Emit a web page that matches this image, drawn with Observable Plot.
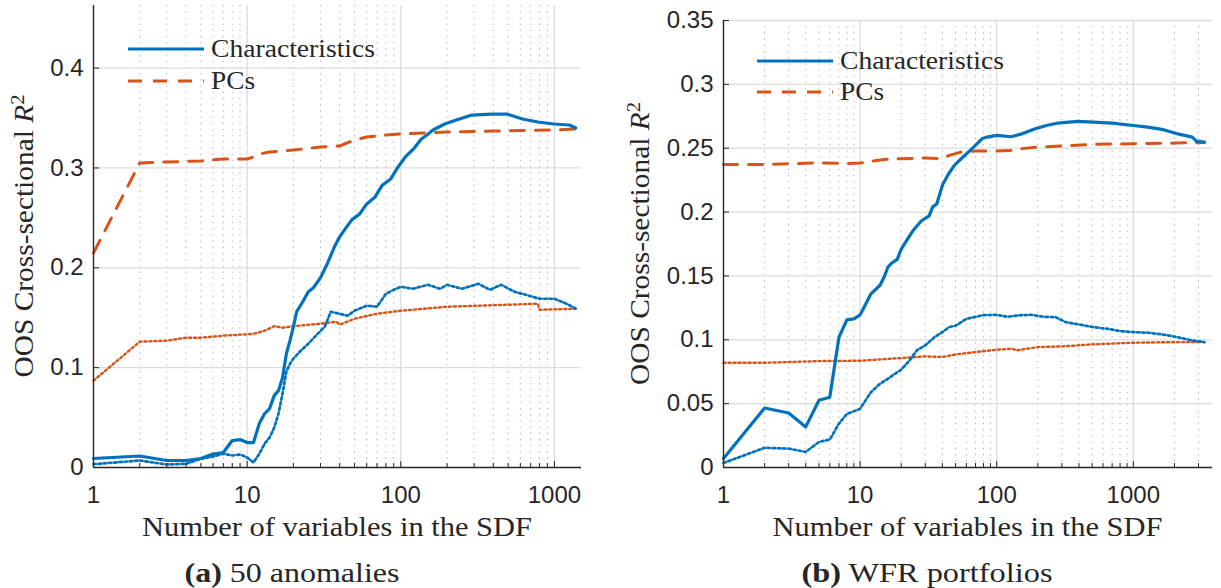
<!DOCTYPE html>
<html><head><meta charset="utf-8">
<script src="https://cdn.jsdelivr.net/npm/d3@7"></script>
<script src="https://cdn.jsdelivr.net/npm/@observablehq/plot@0.6"></script>
<style>
body{margin:0;background:#fff;}
#wrap{position:relative;width:1221px;height:588px;overflow:hidden;background:#fff;}
#wrap svg{position:absolute;top:0;}
#wrap svg text.serif, #wrap svg text.serif tspan{font-family:"Liberation Serif","Times New Roman","DejaVu Serif",serif !important;}
#wrap svg g[aria-label="x-axis tick label"] text, #wrap svg g[aria-label="y-axis tick label"] text{font-family:"Liberation Sans",Arial,Helvetica,"DejaVu Sans",sans-serif !important;}
</style></head><body><div id="wrap"></div>
<script>
// ---------- Panel (a): 50 anomalies ----------
const aCharSolidX = [1,2,3,4,5,6,7,8,9,10,11,12,13,14,15,16,17,18,19,20,21,23,25,27,30,33,37,40,43,48,54,60,68,76,86,96,107,121,136,148,162,193,230,290,390,490,620,780,990,1250,1375];
const aCharSolidY = [0.009,0.0115,0.007,0.007,0.009,0.0135,0.015,0.027,0.028,0.025,0.025,0.044,0.054,0.059,0.072,0.077,0.09,0.114,0.127,0.141,0.156,0.166,0.176,0.18,0.19,0.203,0.221,0.231,0.238,0.248,0.254,0.264,0.271,0.283,0.289,0.301,0.311,0.319,0.329,0.333,0.338,0.344,0.348,0.353,0.354,0.354,0.349,0.346,0.344,0.343,0.340];
const aPCsDashX = [1,2,3,5,7,10,11,12,14,20,30,40,50,60,80,100,200,400,1000,1375];
const aPCsDashY = [0.215,0.305,0.306,0.307,0.309,0.309,0.311,0.314,0.316,0.318,0.321,0.322,0.328,0.331,0.333,0.334,0.336,0.337,0.338,0.339];
const aCharDotX = [1,2,3,4,5,6,7,8,9,10,11,12,13,14,15,16,17,18,19,20,22,25,28,32,35,40,45,50,60,70,80,90,100,120,150,180,200,250,320,380,450,550,650,800,1000,1200,1375];
const aCharDotY = [0.0033,0.007,0.003,0.0037,0.0087,0.011,0.0137,0.012,0.013,0.010,0.005,0.0137,0.024,0.030,0.040,0.054,0.074,0.096,0.104,0.109,0.116,0.124,0.132,0.141,0.156,0.154,0.152,0.157,0.162,0.161,0.174,0.178,0.181,0.179,0.183,0.179,0.183,0.179,0.184,0.178,0.183,0.176,0.173,0.169,0.169,0.164,0.159];
const aPCsDotX = [1,2,3,4,5,7,10,11,13,15,17,20,30,38,40,50,70,100,200,400,780,800,1375];
const aPCsDotY = [0.087,0.126,0.127,0.130,0.130,0.132,0.1334,0.134,0.137,0.1415,0.140,0.1415,0.144,0.146,0.143,0.149,0.154,0.157,0.161,0.1625,0.164,0.158,0.159];
const aYTicks = [0,0.1,0.2,0.3,0.4];

// ---------- Panel (b): WFR portfolios ----------
const bCharSolidX = [1,2,3,4,5,6,7,8,9,10,11,12,14,15,16,17,18.7,20,22,24.6,28,32,34,36.5,39,40.4,44.5,49,54,62,68,78,85,100,128,150,189,231,281,390,508,706,1000,1276,1660,2160,2700,2900,3320];
const bCharSolidY = [0.007,0.0466,0.0427,0.0318,0.0526,0.055,0.102,0.1156,0.1164,0.1195,0.128,0.136,0.1427,0.1492,0.157,0.160,0.163,0.171,0.178,0.186,0.193,0.197,0.204,0.2066,0.217,0.222,0.230,0.2365,0.241,0.247,0.251,0.2574,0.2587,0.260,0.259,0.261,0.265,0.2678,0.2697,0.271,0.2704,0.2697,0.2678,0.2665,0.2645,0.261,0.2587,0.2556,0.2548];
const bPCsDashX = [1,2,3,5,8,10,15,20,30,40,45,55,70,100,130,150,200,300,500,1000,2000,3320];
const bPCsDashY = [0.2373,0.2373,0.2378,0.2386,0.238,0.2384,0.2412,0.2418,0.2423,0.2418,0.2444,0.247,0.2478,0.2478,0.2483,0.2496,0.2509,0.2517,0.253,0.2535,0.254,0.2545];
const bCharDotX = [1,2,3,4,5,6,7,8,9,10,12,14,16,18,20,23,26,30,35,40,45,50,60,70,80,100,120,150,180,220,270,320,400,500,650,800,1000,1300,1700,2200,2700,3320];
const bCharDotY = [0.0036,0.0154,0.0148,0.0122,0.020,0.0219,0.0344,0.042,0.044,0.046,0.059,0.0656,0.0695,0.0734,0.0766,0.0838,0.0917,0.0956,0.102,0.106,0.110,0.111,0.1164,0.118,0.1193,0.1195,0.118,0.1193,0.1195,0.118,0.1177,0.1138,0.112,0.110,0.1086,0.1068,0.106,0.1055,0.1039,0.1016,0.0995,0.0982];
const bPCsDotX = [1,2,5,10,20,30,40,50,70,100,130,140,200,300,500,1000,2000,3320];
const bPCsDotY = [0.082,0.082,0.0833,0.0836,0.0857,0.087,0.0865,0.0885,0.0904,0.0922,0.093,0.0917,0.0943,0.0948,0.0964,0.0977,0.0982,0.0982];
const bYTicks = [0,0.05,0.1,0.15,0.2,0.25,0.3,0.35];

const xTickValues = [1,10,100,1000];
const legendLabels = ["Characteristics","PCs"];
const xLabel = "Number of variables in the SDF";
const captions = [["(a)"," 50 anomalies"],["(b)"," WFR portfolios"]];

const BLUE = "#0072BD", ORANGE = "#D95319", INK = "#262626";
const SERIF = '"Liberation Serif","Times New Roman","DejaVu Serif",serif';
const SANS = '"Liberation Sans",Arial,Helvetica,"DejaVu Sans",sans-serif';

function addText(svg, o) {
  const t = svg.append("text")
    .attr("class", "serif")
    .attr("x", o.x).attr("y", o.y)
    .attr("text-anchor", o.anchor || "middle")
    .style("font-family", SERIF)
    .style("font-size", o.size + "px").attr("fill", INK);
  if (o.rotate) t.attr("transform", `rotate(-90 ${o.x} ${o.y})`);
  for (const p of o.parts) {
    const s = t.append("tspan").text(p.t);
    if (p.b) s.style("font-weight", "bold");
    if (p.i) s.style("font-style", "italic");
    if (p.sup) s.attr("dy", "-0.45em").style("font-size", (o.size * 0.7) + "px");
  }
  if (o.len) t.attr("textLength", o.len).attr("lengthAdjust", "spacingAndGlyphs");
}

function panel(cfg) {
  const height = 588, marginBottom = 121;
  const plotH = height - cfg.marginTop - marginBottom;
  const plotW = cfg.width - cfg.marginLeft - cfg.marginRight;
  const minor = [];
  for (const k of [1, 10, 100, 1000]) for (let m = 2; m <= 9; m++) if (m * k <= cfg.xMax) minor.push(m * k);
  const major = xTickValues.filter(v => v <= cfg.xMax);
  const line = (xs, ys, opt) => Plot.line(ys, {x: xs, y: ys, curve: "linear", strokeLinejoin: "round", ...opt});
  const plot = Plot.plot({
    width: cfg.width, height,
    marginLeft: cfg.marginLeft, marginRight: cfg.marginRight,
    marginTop: cfg.marginTop, marginBottom,
    x: {type: "log", domain: [1, cfg.xMax]},
    y: {domain: [0, cfg.yMax]},
    style: {fontFamily: SANS, fontSize: "24px", color: INK, background: "white", overflow: "visible"},
    marks: [
      Plot.ruleX(minor, {x: d => d, stroke: "#a8a8a8", strokeWidth: 1, strokeDasharray: "1.2,5"}),
      Plot.ruleX(major.filter(v => v > 1), {x: d => d, stroke: "#dcdcdc", strokeWidth: 1.3}),
      Plot.ruleY(cfg.yTicks.filter(v => v > 0), {y: d => d, stroke: "#dcdcdc", strokeWidth: 1.3}),
      line(cfg.pcDotX, cfg.pcDotY, {stroke: ORANGE, strokeWidth: 2.4, strokeDasharray: "2.2,2.8"}),
      line(cfg.chDotX, cfg.chDotY, {stroke: BLUE, strokeWidth: 2.7, strokeDasharray: "2.5,2.7"}),
      line(cfg.pcDashX, cfg.pcDashY, {stroke: ORANGE, strokeWidth: 3, strokeDasharray: "14,11"}),
      line(cfg.chX, cfg.chY, {stroke: BLUE, strokeWidth: 3.2}),
      Plot.tickX(minor, {x: d => d, insetTop: plotH - 4, stroke: INK, strokeWidth: 1}),
      Plot.tickX(major, {x: d => d, insetTop: plotH - 6, stroke: INK, strokeWidth: 1}),
      Plot.tickY(cfg.yTicks, {y: d => d, insetRight: plotW - 6, stroke: INK, strokeWidth: 1}),
      Plot.ruleX([1], {stroke: INK, strokeWidth: 1.4}),
      Plot.ruleY([0], {stroke: INK, strokeWidth: 1.4}),
      Plot.axisX({ticks: major, tickFormat: d => String(d), tickSize: 0, tickPadding: 18, label: null, fontFamily: SANS, fontSize: 24}),
      Plot.axisY({ticks: cfg.yTicks, tickFormat: d => String(d), tickSize: 0, tickPadding: 10, label: null, fontFamily: SANS, fontSize: 24})
    ]
  });
  const svg = d3.select(plot);
  addText(svg, {x: cfg.marginLeft + plotW / 2, y: 536, size: 28, len: 390, parts: [{t: xLabel}]});
  addText(svg, {x: cfg.yLabelX, y: cfg.marginTop + plotH / 2, size: 28, rotate: true, len: 283,
    parts: [{t: "OOS Cross-sectional "}, {t: "R", i: true}, {t: "2", sup: true}]});
  const lg = cfg.legend;
  const styles = [{stroke: BLUE, w: 3.2, dash: null}, {stroke: ORANGE, w: 3, dash: "14,11"}];
  legendLabels.forEach((lab, i) => {
    const y = lg.y[i];
    const l = svg.append("line").attr("x1", lg.x0).attr("x2", lg.x1).attr("y1", y).attr("y2", y)
      .attr("stroke", styles[i].stroke).attr("stroke-width", styles[i].w);
    if (styles[i].dash) l.attr("stroke-dasharray", styles[i].dash);
    addText(svg, {x: lg.tx, y: y + 7.5, size: 25, anchor: "start", len: lab === "PCs" ? 44 : 164, parts: [{t: lab}]});
  });
  addText(svg, {x: cfg.captionX, y: 582, size: 28, len: cfg.captionLen,
    parts: [{t: cfg.caption[0], b: true}, {t: cfg.caption[1]}]});
  plot.style.left = cfg.left + "px";
  return plot;
}

const wrap = document.getElementById("wrap");
wrap.appendChild(panel({
  left: 0, width: 610, marginLeft: 93, marginRight: 29, marginTop: 5,
  xMax: 1500, yMax: 0.4627, yTicks: aYTicks,
  chX: aCharSolidX, chY: aCharSolidY, pcDashX: aPCsDashX, pcDashY: aPCsDashY,
  chDotX: aCharDotX, chDotY: aCharDotY, pcDotX: aPCsDotX, pcDotY: aPCsDotY,
  yLabelX: 33, legend: {x0: 128, x1: 204, tx: 211, y: [49, 81]},
  caption: captions[0], captionX: 292, captionLen: 215
}));
wrap.appendChild(panel({
  left: 610, width: 611, marginLeft: 113, marginRight: 9, marginTop: 20,
  xMax: 3800, yMax: 0.35, yTicks: bYTicks,
  chX: bCharSolidX, chY: bCharSolidY, pcDashX: bPCsDashX, pcDashY: bPCsDashY,
  chDotX: bCharDotX, chDotY: bCharDotY, pcDotX: bPCsDotX, pcDotY: bPCsDotY,
  yLabelX: 39, legend: {x0: 147, x1: 223, tx: 230, y: [61, 92]},
  caption: captions[1], captionX: 317, captionLen: 251
}));
</script></body></html>
